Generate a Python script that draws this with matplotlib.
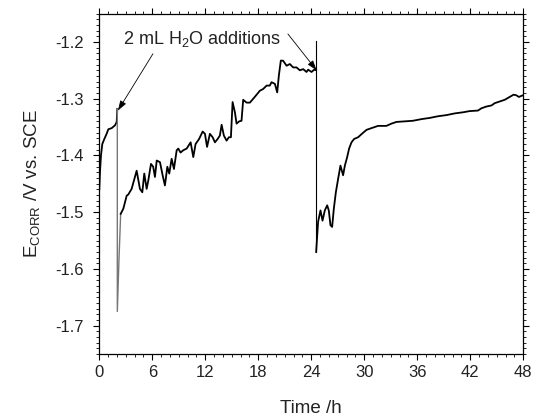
import matplotlib
matplotlib.use("Agg")
import matplotlib.pyplot as plt

plt.rcParams['font.family'] = ['Liberation Sans', 'DejaVu Sans']
plt.rcParams['mathtext.fontset'] = 'custom'
plt.rcParams['mathtext.rm'] = 'Liberation Sans'
plt.rcParams['mathtext.it'] = 'Liberation Sans:italic'

# Segment before first addition
t1 = [0.0, 0.08, 0.19, 0.34, 0.57, 0.83, 1.02, 1.4, 1.78, 1.97, 2.04]
e1 = [-1.46, -1.429, -1.40, -1.38, -1.371, -1.362, -1.354, -1.352, -1.347, -1.341, -1.318]

# Drop after first addition (thin)
t_drop1 = [2.04, 2.04, 2.23, 2.42]
e_drop1 = [-1.318, -1.675, -1.582, -1.503]

# Segment between additions
t2 = [2.42, 2.72, 3.1, 3.28, 3.66, 4.23, 4.6, 4.87, 5.09, 5.36, 5.55, 5.85,
      6.1, 6.3, 6.5, 6.87, 7.17, 7.43, 7.7, 7.92, 8.19, 8.45, 8.76, 8.94,
      9.2, 9.5, 9.89, 10.34, 10.64, 10.9, 11.3, 11.7, 11.96, 12.2, 12.52,
      12.83, 13.09, 13.4, 13.65, 13.85, 14.1, 14.41, 14.67, 14.9, 15.09,
      15.35, 15.54, 15.84, 16.1, 16.29, 16.67, 17.05, 17.6, 18.18, 18.55,
      18.94, 19.3, 19.5, 19.88, 20.14, 20.33, 20.55, 20.8, 21.2, 21.57,
      21.95, 22.33, 22.7, 23.08, 23.46, 23.64, 24.03, 24.32, 24.55]
e2 = [-1.503, -1.494, -1.471, -1.469, -1.459, -1.427, -1.459, -1.465, -1.432,
      -1.459, -1.444, -1.415, -1.42, -1.438, -1.409, -1.412, -1.435, -1.453,
      -1.42, -1.432, -1.406, -1.424, -1.391, -1.388, -1.395, -1.391, -1.388,
      -1.377, -1.403, -1.38, -1.371, -1.358, -1.362, -1.385, -1.362, -1.368,
      -1.377, -1.371, -1.365, -1.346, -1.365, -1.374, -1.368, -1.368, -1.306,
      -1.324, -1.344, -1.34, -1.339, -1.302, -1.307, -1.307, -1.297, -1.286,
      -1.283, -1.277, -1.277, -1.271, -1.274, -1.289, -1.259, -1.233, -1.233,
      -1.242, -1.239, -1.245, -1.245, -1.25, -1.248, -1.253, -1.249, -1.253,
      -1.249, -1.25]

# Vertical marker at second addition
t_mark2 = [24.55, 24.55]
e_mark2 = [-1.198, -1.570]

# Segment after second addition
t3 = [24.55, 24.77, 25.04, 25.27, 25.53, 25.8, 25.98, 26.17, 26.36, 26.55,
      26.78, 27.04, 27.3, 27.6, 27.8, 28.06, 28.28, 28.55, 28.85, 29.3, 29.8,
      30.25, 30.8, 31.56, 32.5, 33.08, 33.65, 34.6, 35.5, 36.5, 37.4, 38.35,
      39.3, 40.24, 41.2, 41.9, 42.87, 43.26, 43.8, 44.4, 44.76, 45.33, 45.9,
      46.46, 46.9, 47.2, 47.5, 47.96]
e3 = [-1.570, -1.517, -1.497, -1.515, -1.497, -1.488, -1.497, -1.523, -1.526,
      -1.494, -1.465, -1.441, -1.418, -1.435, -1.418, -1.403, -1.388, -1.377,
      -1.371, -1.368, -1.361, -1.355, -1.352, -1.348, -1.348, -1.344, -1.341,
      -1.34, -1.339, -1.336, -1.334, -1.331, -1.329, -1.326, -1.324, -1.322,
      -1.321, -1.317, -1.314, -1.312, -1.308, -1.305, -1.302, -1.297, -1.293,
      -1.294, -1.297, -1.294]

xticks = [0, 6, 12, 18, 24, 30, 36, 42, 48]
yticks = [-1.7, -1.6, -1.5, -1.4, -1.3, -1.2]
annot_text = r'2 mL H$_2$O additions'

fig = plt.figure(figsize=(5.33, 4.16), dpi=100)
ax = fig.add_axes([0.1863, 0.149, 0.7955, 0.8185])

ax.plot(t1, e1, color='black', lw=1.3)
ax.plot(t_drop1, e_drop1, color='#777777', lw=1.0)
ax.plot(t2, e2, color='black', lw=1.3)
ax.plot(t_mark2, e_mark2, color='black', lw=0.8)
ax.plot(t3, e3, color='black', lw=1.3)

ax.set_xlim(0, 48)
ax.set_ylim(-1.75, -1.15)
ax.set_xticks(xticks)
ax.set_yticks(yticks)
ax.set_yticklabels([f'{v:.1f}' for v in yticks])
ax.set_xticks(range(0, 49, 1), minor=True)
ax.set_yticks([-1.75 + 0.01 * i for i in range(61)], minor=True)

ax.tick_params(which='major', direction='out', length=4, width=0.8,
               labelsize=12, labelcolor='#222222', top=True, right=True)
ax.tick_params(axis='x', which='major', pad=4)
ax.tick_params(axis='y', which='major', pad=7)
ax.tick_params(which='minor', direction='out', length=2.2, width=0.6,
               top=True, right=True)
for sp in ax.spines.values():
    sp.set_linewidth(0.9)

ax.set_xlabel('Time /h', fontsize=13.5, labelpad=14, color='#222222')
ax.set_ylabel(r'E$_{\rm CORR}$ /V vs. SCE', fontsize=13.5, labelpad=10,
              color='#222222')

ax.text(2.68, -1.195, annot_text, fontsize=13, va='center', ha='left',
        color='#222222')
ax.annotate('', xy=(2.11, -1.321), xytext=(6.07, -1.221),
            arrowprops=dict(arrowstyle='-|>,head_length=0.6,head_width=0.2',
                            lw=0.6, color='black',
                            mutation_scale=10, shrinkA=0, shrinkB=0))
ax.annotate('', xy=(24.6, -1.25), xytext=(21.35, -1.186),
            arrowprops=dict(arrowstyle='-|>,head_length=0.6,head_width=0.2',
                            lw=0.6, color='black',
                            mutation_scale=10, shrinkA=0, shrinkB=0))

fig.savefig('out.png', dpi=100)
